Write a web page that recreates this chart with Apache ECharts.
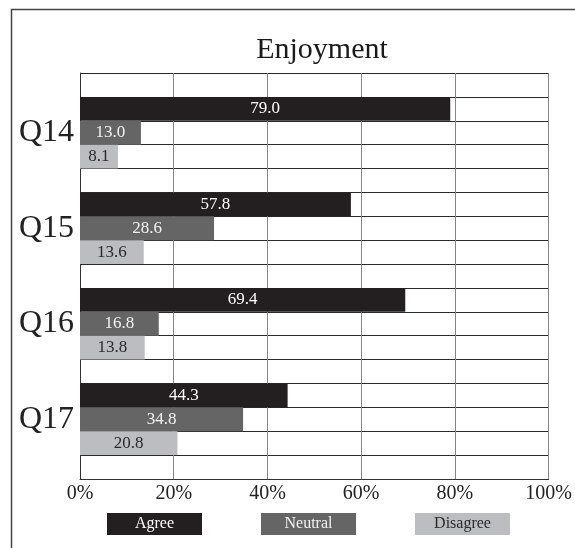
<!DOCTYPE html>
<html>
<head>
<meta charset="utf-8">
<script src="https://cdn.jsdelivr.net/npm/echarts@6/dist/echarts.min.js"></script>
<style>
  html, body { margin: 0; padding: 0; background: #fff; }
  #main { width: 575px; height: 548px; }
</style>
</head>
<body>
<div id="main"></div>
<script>
// data
var categories = ['Q14', 'Q15', 'Q16', 'Q17'];
var agree = [79.0, 57.8, 69.4, 44.3];
var neutral = [13.0, 28.6, 16.8, 34.8];
var disagree = [8.1, 13.6, 13.8, 20.8];
var seriesNames = ['Agree', 'Neutral', 'Disagree'];
var seriesColors = ['#231f20', '#656565', '#bcbdc0'];
var labelColors = ['#ffffff', '#f2f2f2', '#2a2a2a'];

var font = 'Liberation Serif';

// every group takes 4 rows: 3 bars and one empty row, plus an empty row on top
var rowCount = categories.length * 4 + 1;
var rowLabels = [];
for (var i = 0; i < rowCount; i++) rowLabels.push('');
categories.forEach(function (c, g) { rowLabels[4 * g + 2] = c; });

function rowData(values, s) {
    var d = [];
    for (var i = 0; i < rowCount; i++) d.push('-');
    values.forEach(function (v, g) { d[1 + 4 * g + s] = v; });
    return d;
}

var allValues = [agree, neutral, disagree];

var myChart = echarts.init(document.getElementById('main'));

var series = seriesNames.map(function (name, s) {
    return {
        name: name,
        type: 'bar',
        data: rowData(allValues[s], s),
        barWidth: '100%',
        barGap: '-100%',
        itemStyle: { color: seriesColors[s] },
        label: {
            show: true,
            position: 'inside',
            color: labelColors[s],
            fontSize: 17,
            fontFamily: font,
            formatter: function (p) { return Number(p.value).toFixed(1); }
        }
    };
});

// legend boxes with the name written inside
var legendItems = seriesNames.map(function (name, s) {
    return {
        type: 'group',
        left: 107 + s * 154,
        top: 513,
        children: [
            { type: 'rect', shape: { x: 0, y: 0, width: 95, height: 22 }, style: { fill: seriesColors[s] } },
            { type: 'text', x: 47.5, y: 11, style: { text: name, fill: labelColors[s], font: '16px "' + font + '"', textAlign: 'center', textVerticalAlign: 'middle' } }
        ]
    };
});

var option = {
    animation: false,
    title: {
        text: 'Enjoyment',
        left: 317,
        top: 30,
        textAlign: 'center',
        textStyle: { fontFamily: font, fontSize: 30, fontWeight: 'normal', color: '#1a1a1a' }
    },
    grid: { left: 80, right: 20, top: 73, bottom: 69 },
    xAxis: {
        type: 'value',
        min: 0,
        max: 100,
        interval: 20,
        axisLine: { show: true, lineStyle: { color: '#333' } },
        axisTick: { show: false },
        splitLine: { show: true, lineStyle: { color: '#858585' } },
        axisLabel: { formatter: '{value}%', fontFamily: font, fontSize: 20, color: '#222', margin: 5 }
    },
    yAxis: {
        type: 'category',
        inverse: true,
        data: rowLabels,
        axisLine: { show: true, lineStyle: { color: '#333' } },
        axisTick: { show: false },
        splitLine: { show: true, interval: 0, lineStyle: { color: '#2a2a2a' } },
        axisLabel: { interval: 0, fontFamily: font, fontSize: 32, color: '#222', margin: 6 }
    },
    graphic: [
        { type: 'rect', shape: { x: 11.5, y: 9.5, width: 700, height: 700 }, style: { fill: 'none', stroke: '#444', lineWidth: 1.5 }, z: -1 }
    ].concat(legendItems),
    series: series
};

myChart.setOption(option);
</script>
</body>
</html>
